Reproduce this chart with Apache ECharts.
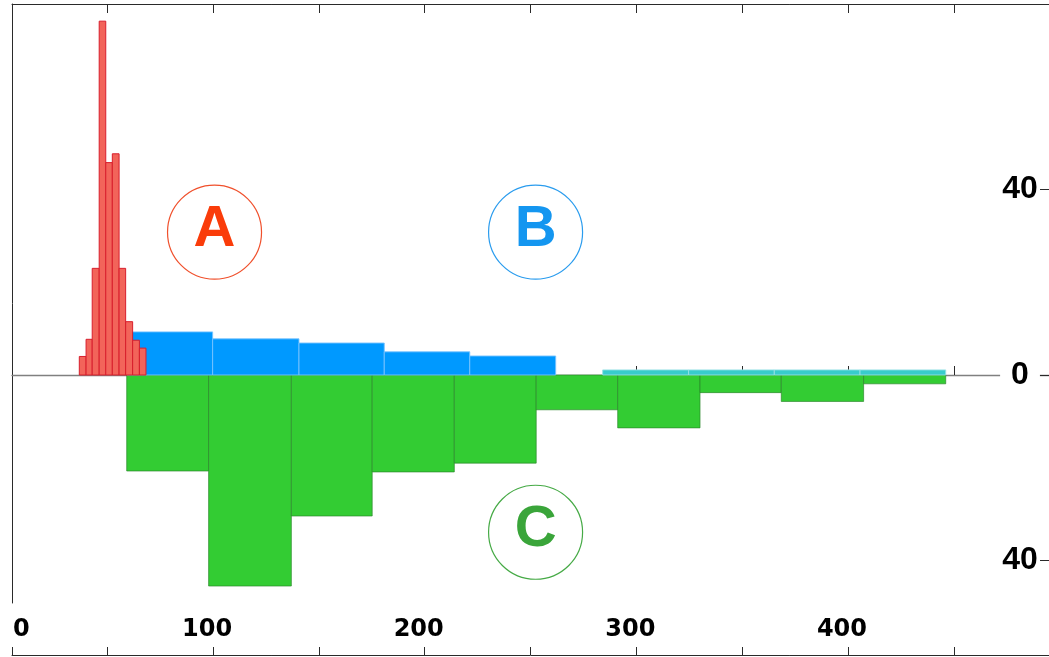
<!DOCTYPE html>
<html>
<head>
<meta charset="utf-8">
<script src="https://cdn.jsdelivr.net/npm/echarts@6/dist/echarts.min.js"></script>
<style>
html,body{margin:0;padding:0;background:#fff;}
#chart{width:1049px;height:657px;}
</style>
</head>
<body>
<div id="chart"></div>
<script>
// ---- data ----
const redEdges = [36.8, 40.0, 42.9, 46.2, 49.3, 52.4, 55.6, 58.7, 62.0, 65.2, 68.3];
const redCounts = [4.0, 7.7, 23.0, 76.3, 45.8, 47.7, 23.0, 11.5, 7.5, 5.8];
const blueEdges = [59.3, 99.8, 140.6, 180.9, 221.3, 261.9];
const blueCounts = [9.3, 7.8, 6.9, 5.0, 4.1];
const cyanEdges = [284.1, 324.7, 365.2, 405.7, 446.2];
const cyanCounts = [1.1, 1.1, 1.1, 1.1];
const greenEdges = [59.2, 97.9, 137.0, 175.2, 214.0, 252.7, 291.2, 330.1, 368.5, 407.4, 446.2];
const greenCounts = [-20.7, -45.5, -30.4, -20.9, -19.0, -7.5, -11.4, -3.8, -5.7, -1.9];
const markerNames = ['A', 'B', 'C'];
const markerX = [100.7, 252.4, 252.4];
const markerY = [30.8, 30.8, -33.9];
const xTicks = [50, 100, 150, 200, 250, 300, 350, 400, 450];
const xBottomTicks = [5, 50, 100, 150, 200, 250, 300, 350, 400, 450];
const xTickLabels = [0, 100, 200, 300, 400];
const yTicks = [-40, 0, 40];

const X_MIN = 5, X_MAX = 495, Y_MIN = -49.16, Y_MAX = 80;

function bins(edges, counts) {
  return counts.map((c, i) => [edges[i], edges[i + 1], c]);
}
function histSeries(name, edges, counts, fill, stroke, z) {
  return {
    type: 'custom', name: name, z: z, xAxisIndex: 0, yAxisIndex: 0,
    data: bins(edges, counts),
    encode: { x: [0, 1], y: 2 },
    renderItem: function (params, api) {
      const p0 = api.coord([api.value(0), 0]);
      const p1 = api.coord([api.value(1), api.value(2)]);
      return {
        type: 'rect',
        shape: { x: p0[0], y: Math.min(p0[1], p1[1]), width: p1[0] - p0[0], height: Math.abs(p1[1] - p0[1]) },
        style: { fill: fill, stroke: stroke, lineWidth: 1 }
      };
    }
  };
}

const markerColors = [
  { text: '#FA3C0A', ring: '#F0502C' },
  { text: '#1496F0', ring: '#2A9CEE' },
  { text: '#3AA53A', ring: '#46AA46' }
];

const chart = echarts.init(document.getElementById('chart'), null, { renderer: 'canvas' });
const frameColor = '#2a2a2a';

chart.setOption({
  animation: false,
  backgroundColor: '#ffffff',
  grid: [
    { left: 12, right: 0, top: 4, bottom: 54 },
    { left: 1.42, right: 0, top: 603, bottom: 1 }
  ],
  xAxis: [
    { // zero line
      type: 'value', gridIndex: 0, position: 'bottom', min: X_MIN, max: X_MAX,
      axisLine: { show: true, onZero: true, lineStyle: { color: '#808080', width: 1.3 } },
      axisTick: { show: true, inside: true, length: 9, customValues: xTicks, lineStyle: { color: frameColor, width: 1 } },
      axisLabel: { show: false }, splitLine: { show: false }
    },
    { // top frame
      type: 'value', gridIndex: 0, position: 'top', min: X_MIN, max: X_MAX,
      axisLine: { show: true, onZero: false, lineStyle: { color: frameColor, width: 1 } },
      axisTick: { show: true, inside: true, length: 9, customValues: xTicks, lineStyle: { color: frameColor, width: 1 } },
      axisLabel: { show: false }, splitLine: { show: false }
    },
    { // bottom axis line & ticks
      type: 'value', gridIndex: 0, position: 'bottom', offset: 52, min: X_MIN, max: X_MAX,
      axisLine: { show: true, onZero: false, lineStyle: { color: frameColor, width: 1 } },
      axisTick: { show: true, inside: true, length: 8, customValues: xBottomTicks, lineStyle: { color: frameColor, width: 1 } },
      axisLabel: { show: false }, splitLine: { show: false }
    },
    { // bottom tick labels
      type: 'value', gridIndex: 1, position: 'bottom', min: 0, max: X_MAX,
      axisLine: { show: false, onZero: false }, axisTick: { show: false },
      splitLine: { show: false },
      axisLabel: {
        show: true, inside: true, margin: 14.5, customValues: xTickLabels,
        formatter: function (v) { return v === 0 ? '{f|0}' : '{n|' + v + '}'; },
        rich: {
          f: { fontFamily: 'DejaVu Sans', fontWeight: 'bold', fontSize: 24, color: '#000', padding: [0, 0, 0, 40] },
          n: { fontFamily: 'DejaVu Sans', fontWeight: 'bold', fontSize: 24, color: '#000', padding: [0, 12, 0, 0] }
        }
      }
    }
  ],
  yAxis: [
    { // right axis with labels
      type: 'value', gridIndex: 0, position: 'right', min: Y_MIN, max: Y_MAX,
      axisLine: { show: false, onZero: false },
      axisTick: { show: true, inside: true, length: 9, customValues: yTicks, lineStyle: { color: frameColor, width: 1 } },
      splitLine: { show: false },
      axisLabel: {
        show: true, inside: true, margin: 29, align: 'center', customValues: yTicks,
        formatter: function (v) { return v === 0 ? '{z|0}' : '{n|' + Math.abs(v) + '}'; },
        rich: {
          z: { fontFamily: 'Liberation Sans', fontWeight: 'bold', fontSize: 32, color: '#000', backgroundColor: '#ffffff', padding: [2, 11, 2, 11] },
          n: { fontFamily: 'Liberation Sans', fontWeight: 'bold', fontSize: 32, color: '#000' }
        }
      }
    },
    { // left frame
      type: 'value', gridIndex: 0, position: 'left', min: Y_MIN, max: Y_MAX,
      axisLine: { show: true, onZero: false, lineStyle: { color: frameColor, width: 1 } },
      axisTick: { show: false }, axisLabel: { show: false }, splitLine: { show: false }
    },
    { type: 'value', gridIndex: 1, show: false, min: 0, max: 1 }
  ],
  series: [
    histSeries('C', greenEdges, greenCounts, '#33CC33', 'rgba(40,130,40,0.65)', 2),
    histSeries('B', blueEdges, blueCounts, '#0099FF', 'rgba(120,195,255,0.9)', 3),
    histSeries('B2', cyanEdges, cyanCounts, '#38CCCC', 'rgba(150,225,230,0.9)', 3),
    histSeries('A', redEdges, redCounts, '#F2645A', '#D81E2C', 4),
    {
      type: 'scatter', xAxisIndex: 0, yAxisIndex: 0, z: 5,
      symbol: 'circle', symbolSize: 94,
      itemStyle: { opacity: 1 },
      data: markerNames.map((n, i) => ({
        value: [markerX[i], markerY[i]], name: n,
        itemStyle: { color: 'rgba(255,255,255,0)', borderColor: markerColors[i].ring, borderWidth: 1.2, opacity: 1 },
        label: { color: markerColors[i].text }
      })),
      label: {
        show: true, position: 'inside', offset: [0, -2],
        formatter: function (p) { return p.name; },
        fontFamily: 'Liberation Sans', fontWeight: 'bold', fontSize: 58
      },
      emphasis: { disabled: true }
    }
  ]
});
</script>
</body>
</html>
